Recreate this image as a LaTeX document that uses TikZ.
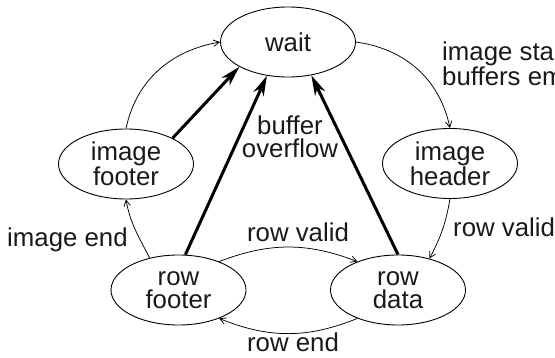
\documentclass[tikz,border=0pt]{standalone}
\usepackage{fontspec}
\setmainfont{Liberation Sans}
\usetikzlibrary{shapes.geometric,arrows.meta}

\tikzset{
  lbl/.style={font=\fontsize{25.8}{22.5}\selectfont, text=black!90, inner sep=0pt},
  state/.style={ellipse, draw, line width=0.9pt, minimum width=135pt, minimum height=70pt,
                inner sep=0pt, align=center, lbl},
  thin/.style={line width=0.75pt, -{Straight Barb[length=6pt,width=6.5pt,line width=0.75pt]}},
  heavy/.style={line width=3pt, -{Stealth[length=20pt,width=11pt,inset=6pt]}},
}

\begin{document}
\begin{tikzpicture}[x=1pt, y=-1pt]
  \useasboundingbox (0,0) rectangle (555,358);
  \clip (0,0) rectangle (555,358);

  % states
  \node[state] (wait)  at (288,42)    {wait};
  \node[state] (ifoot) at (126,164)   {image\\footer};
  \node[state] (ihead) at (450,163.5) {image\\header};
  \node[state] (rfoot) at (178.5,290) {row\\footer};
  \node[state] (rdata) at (398,290)   {row\\data};

  % normal transitions
  \draw[thin] (ifoot.north) to[out=78, in=190] (wait.west);
  \draw[thin] (wait.east) to[out=-8, in=102] (ihead.north);
  \draw[thin] (ihead.south) to[out=260, in=62] (rdata.45);
  \draw[thin] (rfoot.132) to[out=117, in=-80] (ifoot.south);
  \draw[thin] (rfoot.35) to[bend left=21] (rdata.145);
  \draw[thin] (rdata.215) to[bend left=22] (rfoot.325);

  % overflow transitions back to wait
  \draw[heavy] (ifoot.29) -- (wait.207.5);
  \draw[heavy] (rfoot.79) -- (wait.238);
  \draw[heavy] (rdata.90) -- (wait.305);

  % transition labels (base anchor sits on the last line)
  \node[lbl, anchor=base west, align=left] (lstart) at (442,85.5) {image start\\buffers empty};
  \node[lbl, anchor=base, align=center] (lover) at (290,157.5) {buffer\\overflow};
  \node[lbl, anchor=base west] (lend) at (7,247) {image end};
  \node[lbl, anchor=base] (lvalid) at (298,242) {row valid};
  \node[lbl, anchor=base west] (lhvalid) at (453,237) {row valid};
  \node[lbl, anchor=base] (lrowend) at (293,352) {row end};
\end{tikzpicture}
\end{document}
